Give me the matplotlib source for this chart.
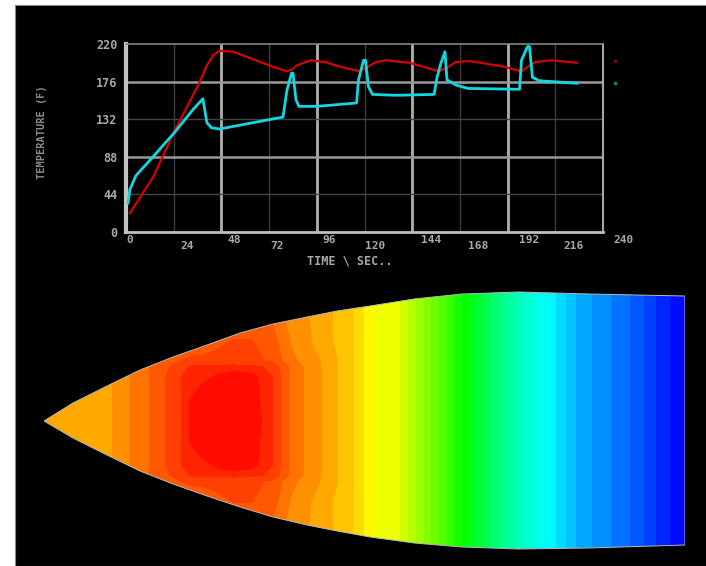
import numpy as np
import matplotlib
matplotlib.use("Agg")
import matplotlib.pyplot as plt
from matplotlib.colors import LinearSegmentedColormap
from matplotlib.patches import Rectangle, Polygon
from matplotlib.transforms import ScaledTranslation

# --- time history ---
red_t = [2, 13.6, 24.6, 37, 40.7, 44, 47, 54, 72, 81, 84, 86, 93, 100, 107, 117.5, 122, 126, 131, 142.6,
         157.6, 162, 166, 173, 189, 199, 202, 206, 214, 227]
red_v = [22, 64, 119, 175, 195, 207, 212, 211, 195, 188, 191, 195, 201, 199, 194, 188, 194, 199, 201, 198,
         188, 193, 199, 200, 194, 188, 193, 199, 201, 198]
cyan_t = [1, 2, 5, 13.6, 24.6, 33.6, 38.7, 40.7, 43, 47, 79, 81, 83.3, 84, 85.5, 87, 96,
          116, 117, 119.5, 120.5, 122, 124, 136, 155, 156.5, 158.5, 160.5, 161.5, 166, 172, 198, 199,
          202, 203, 204.5, 208, 227]
cyan_v = [34, 50, 66, 88, 117, 143, 156, 128, 122, 120.5, 134.5, 166, 186, 186, 155, 147, 147,
          151, 178, 201, 201, 170, 161, 160, 161, 181, 198, 211, 178, 172, 168, 167, 201,
          217, 217, 181, 177, 174]
x_ticks = [0, 24, 48, 72, 96, 120, 144, 168, 192, 216, 240]
y_ticks = [0, 44, 88, 132, 176, 220]
x_label = "TIME \\ SEC.."
y_label = "TEMPERATURE (F)"

# --- body outline and surface field ---
outline_x = [0, 29, 63, 96, 129, 163, 196, 229, 263, 293, 326, 370, 418, 475, 545, 641]
outline_top = [0, -18, -35, -51, -64, -76, -88, -97, -104, -110, -115, -122, -127, -129, -127, -125]
outline_bot = [0, 17, 34, 50, 63, 75, 86, 96, 104, 110, 116, 122, 126, 128, 127, 124]
field_x = [0, 63, 107, 138, 149, 160, 175, 190, 208, 228, 247, 282, 313, 326, 356, 392, 422, 435,
           470, 505, 536, 588, 623, 641]
field_r = [0, 20, 35, 44, 54, 60, 80, 130]
tail = [.79, .75, .72, .60, .50, .45, .33, .25, .17, .10, .03, 0]
field_0 = [.84, .84, .90, .95, .99, 1, 1, 1, 1, .95, .89, .84] + tail
field_20 = [.84, .84, .90, .95, .985, 1, 1, 1, .99, .95, .89, .84] + tail
field_35 = [.84, .84, .90, .95, .96, .985, 1, 1, .99, .95, .89, .84] + tail
field_44 = [.84, .84, .90, .95, .955, .96, .985, .995, .985, .95, .89, .84] + tail
field_54 = [.84, .85, .90, .94, .955, .955, .955, .96, .955, .945, .89, .84] + tail
field_60 = [.84, .86, .90, .925, .93, .93, .93, .93, .93, .92, .88, .84] + tail
field_80 = [.84, .85, .88, .90, .905, .91, .92, .925, .925, .91, .87, .83] + tail
field_130 = [.84, .84, .85, .87, .87, .875, .88, .88, .89, .88, .86, .83] + tail

GREY = "#a8a8a8"
fig = plt.figure(figsize=(7.06, 5.66), dpi=100, facecolor="white")
W, H = 706, 566
fig.patches.append(Rectangle((15 / W, 0), 1, 561 / H, transform=fig.transFigure,
                             facecolor="black", edgecolor="#888888", lw=0.8, zorder=-5))

# top chart
ax = fig.add_axes([126 / W, 1 - 232 / H, 477 / W, 188 / H], facecolor="black")
ax.set_xlim(0, 240)
ax.set_ylim(0, 220)
for t in x_ticks[1:-1]:
    major = t % 48 == 0
    ax.axvline(t, color="#b0b0b0" if major else "#3c3c3c", lw=2.0 if major else 1.0, zorder=1)
for v in y_ticks[1:-1]:
    major = v % 88 == 0
    ax.axhline(v, color="#9a9a9a" if major else "#444444", lw=1.8 if major else 1.0, zorder=1)
for side, lw, c in [("left", 3, "#c4c4c4"), ("bottom", 2, "#c0c0c0"),
                    ("top", 1.2, "#858585"), ("right", 1.5, "#a8a8a8")]:
    ax.spines[side].set_linewidth(lw)
    ax.spines[side].set_color(c)
ax.plot(red_t, red_v, color="#d80000", lw=1.6, zorder=3)
ax.plot(cyan_t, cyan_v, color="#10d8e0", lw=2.0, zorder=4)
ax.set_xticks(x_ticks)
ax.set_yticks(y_ticks)
font = dict(family="DejaVu Sans Mono", fontweight="bold", color=GREY)
ax.set_xticklabels([str(t) for t in x_ticks], fontsize=8, **font)
ax.set_yticklabels([str(v) for v in y_ticks], fontsize=8.5, **font)
ax.tick_params(length=0)
ax.tick_params(axis="y", pad=6)
ax.tick_params(axis="x", pad=2)
x_label_shift = [4, 13, 13, 8, 12, 11, 19, 18, 22, 18, 20]
for i, lab in enumerate(ax.get_xticklabels()):
    offs = ScaledTranslation(x_label_shift[i] / 100, (-6 if i % 2 else 0) / 100, fig.dpi_scale_trans)
    lab.set_transform(lab.get_transform() + offs)
ax.set_xlabel(x_label, fontsize=8.5, **font)
ax.xaxis.set_label_coords(0.47, -0.122)
ax.set_ylabel(y_label, fontsize=7.5, family="DejaVu Sans Mono", fontweight="bold", color="#8c8c8c")
ax.yaxis.set_label_coords(-0.165, 0.53)

# small key marks to the right of the chart
ax.plot([1.025], [0.91], marker="s", ms=1.6, color="#800000", transform=ax.transAxes, clip_on=False)
ax.plot([1.025], [0.79], marker="s", ms=1.6, color="#0a8088", transform=ax.transAxes, clip_on=False)

# body surface map
bx = fig.add_axes([44 / W, 1 - 551 / H, 641 / W, 260 / H], facecolor="none")
bx.set_xlim(0, 641)
bx.set_ylim(130, -130)
bx.axis("off")
cmap = LinearSegmentedColormap.from_list(
    "body", [(0, "#0000ff"), (.25, "#00ffff"), (.5, "#00ff00"), (.75, "#ffff00"), (1, "#ff0000")], N=256)
rows = np.array([field_0, field_20, field_35, field_44, field_54, field_60, field_80, field_130])
r = np.array(field_r, float)
grid_r = np.concatenate([-r[:0:-1], r])
Z = np.vstack([rows[:0:-1], rows])
cs = bx.contourf(field_x, grid_r, Z, levels=np.linspace(0, 1.001, 40), cmap=cmap)
verts = list(zip(outline_x, outline_top)) + list(zip(outline_x[::-1], outline_bot[::-1]))
shape = Polygon(verts, closed=True, facecolor="none", edgecolor="#b8b8b8", lw=0.7, zorder=5)
bx.add_patch(shape)
cs.set_clip_path(shape)

fig.savefig("out.png", dpi=100, facecolor=fig.get_facecolor())
